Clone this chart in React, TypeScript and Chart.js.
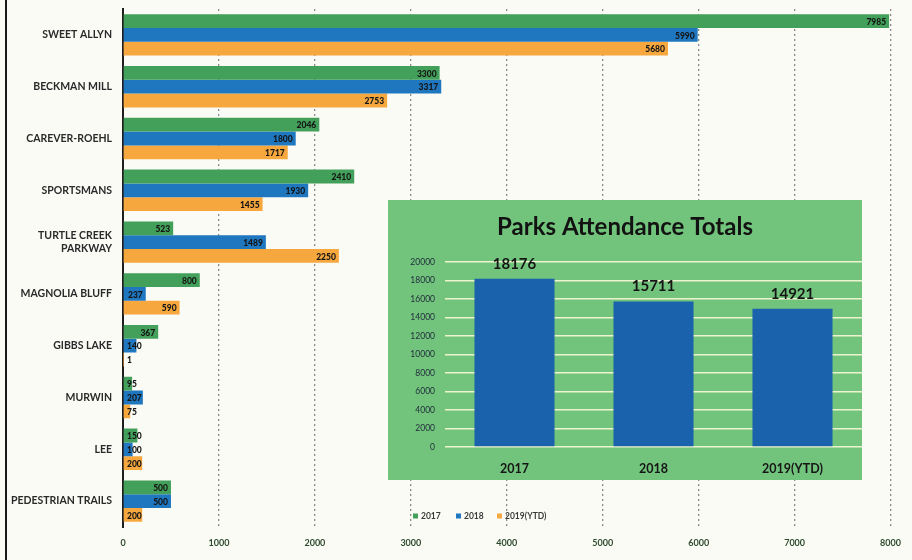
import React, { useEffect, useRef } from "react";
import { Chart, registerables } from "chart.js";

Chart.register(...registerables);

const parks = [
  "SWEET ALLYN",
  "BECKMAN MILL",
  "CAREVER-ROEHL",
  "SPORTSMANS",
  ["TURTLE CREEK", "PARKWAY"],
  "MAGNOLIA BLUFF",
  "GIBBS LAKE",
  "MURWIN",
  "LEE",
  "PEDESTRIAN TRAILS",
];
const seriesNames = ["2017", "2018", "2019(YTD)"];
const values2017 = [7985, 3300, 2046, 2410, 523, 800, 367, 95, 150, 500];
const values2018 = [5990, 3317, 1800, 1930, 1489, 237, 140, 207, 100, 500];
const values2019 = [5680, 2753, 1717, 1455, 2250, 590, 1, 75, 200, 200];
const xMax = 8000;
const xStep = 1000;

const totalYears = ["2017", "2018", "2019(YTD)"];
const totals = [18176, 15711, 14921];
const totalsMax = 20000;
const totalsStep = 2000;

const GREEN = "#43a05a";
const BLUE = "#1f77c0";
const ORANGE = "#f6a83f";

const barLabelPlugin = {
  id: "barLabels",
  afterDatasetsDraw(chart: any) {
    const ctx = chart.ctx;
    const xs = chart.scales.x;
    ctx.save();
    ctx.font = "900 8.5px Lato";
    ctx.fillStyle = "#141414";
    ctx.textAlign = "right";
    ctx.textBaseline = "middle";
    chart.data.datasets.forEach((ds: any, di: number) => {
      const meta = chart.getDatasetMeta(di);
      meta.data.forEach((bar: any, i: number) => {
        const text = String(ds.data[i]);
        const w = ctx.measureText(text).width;
        const x = Math.max(bar.x - 3, xs.left + 4 + w);
        ctx.fillText(text, x, bar.y + 1);
      });
    });
    ctx.restore();
  },
};

const legendPlugin = {
  id: "customLegend",
  afterDraw(chart: any) {
    const ctx = chart.ctx;
    const colors = [GREEN, BLUE, ORANGE];
    const xs = [413, 456, 497];
    const y = 516;
    ctx.save();
    ctx.font = "bold 8.5px Lato";
    ctx.textBaseline = "middle";
    ctx.textAlign = "left";
    seriesNames.forEach((n, i) => {
      ctx.fillStyle = colors[i];
      ctx.fillRect(xs[i], y - 2.5, 5, 5);
      ctx.fillStyle = "#3a3a3a";
      ctx.fillText(n, xs[i] + 8, y);
    });
    ctx.restore();
  },
};

const totalLabelPlugin = {
  id: "totalLabels",
  afterDatasetsDraw(chart: any) {
    const ctx = chart.ctx;
    ctx.save();
    ctx.font = "bold 15px Lato";
    ctx.fillStyle = "#151515";
    ctx.textAlign = "center";
    ctx.textBaseline = "middle";
    const ds = chart.data.datasets[0];
    chart.getDatasetMeta(0).data.forEach((bar: any, i: number) => {
      ctx.fillText(String(ds.data[i]), bar.x, bar.y - 15);
    });
    ctx.restore();
  },
};

function MainChart() {
  const ref = useRef<HTMLCanvasElement>(null);
  useEffect(() => {
    const chart = new Chart(ref.current as HTMLCanvasElement, {
      type: "bar",
      data: {
        labels: parks as any,
        datasets: [
          { label: seriesNames[0], data: values2017, backgroundColor: GREEN },
          { label: seriesNames[1], data: values2018, backgroundColor: BLUE },
          { label: seriesNames[2], data: values2019, backgroundColor: ORANGE },
        ],
      },
      options: {
        indexAxis: "y",
        animation: false,
        responsive: false,
        maintainAspectRatio: false,
        datasets: { bar: { categoryPercentage: 0.8, barPercentage: 1.0 } } as any,
        layout: { padding: { left: 8, right: 19, top: 9, bottom: 0 } },
        plugins: {
          legend: { display: false },
          tooltip: { enabled: false },
          title: { display: false },
        },
        scales: {
          x: {
            min: 0,
            max: xMax,
            ticks: {
              stepSize: xStep,
              color: "#2d4a2d",
              font: { family: "Lato", weight: "bold", size: 9 },
              padding: 11,
              callback: (v: any) => String(v),
            },
            grid: {
              color: (c: any) => (c.tick && c.tick.value === 0 ? "rgba(0,0,0,0)" : "#8a8a8a"),
              lineWidth: 1.3,
              drawTicks: false,
            },
            border: { display: false, dash: [2, 3] },
            afterFit: (s: any) => {
              s.height = 33;
            },
          },
          y: {
            ticks: {
              color: "#2a2a2a",
              font: { family: "Lato", weight: "bold", size: 10.5 },
              padding: 11,
            },
            grid: { display: false, drawTicks: false },
            border: { display: true, color: "#1e1e1e", width: 2 },
            afterFit: (s: any) => {
              s.width = 115;
              s.paddingTop = 0;
              s.paddingBottom = 0;
            },
          },
        },
      },
      plugins: [barLabelPlugin, legendPlugin],
    });
    return () => chart.destroy();
  }, []);
  return <canvas ref={ref} width={912} height={560} style={{ position: "absolute", left: 0, top: 0 }} />;
}

function TotalsChart() {
  const ref = useRef<HTMLCanvasElement>(null);
  useEffect(() => {
    const chart = new Chart(ref.current as HTMLCanvasElement, {
      type: "bar",
      data: {
        labels: totalYears,
        datasets: [
          {
            label: "Totals",
            data: totals,
            backgroundColor: "#1a62ac",
            categoryPercentage: 0.9,
            barPercentage: 0.64,
          },
        ],
      },
      options: {
        animation: false,
        responsive: false,
        maintainAspectRatio: false,
        layout: { padding: { left: 0, right: 0, top: 0, bottom: 0 } },
        plugins: {
          legend: { display: false },
          tooltip: { enabled: false },
          title: {
            display: true,
            text: "Parks Attendance Totals",
            color: "#121212",
            font: { family: "Lato", weight: "bold", size: 24, lineHeight: 1.2 },
            padding: { top: 13, bottom: 20 },
          },
        },
        scales: {
          x: {
            ticks: {
              color: "#161616",
              font: { family: "Lato", weight: "bold", size: 12.5 },
              padding: 14,
            },
            grid: { display: false, drawTicks: false },
            border: { display: false },
            afterFit: (s: any) => {
              s.height = 33;
            },
          },
          y: {
            min: 0,
            max: totalsMax,
            ticks: {
              stepSize: totalsStep,
              color: "#1f2a3a",
              font: { family: "Lato", size: 8.5 },
              padding: 10,
              callback: (v: any) => String(v),
            },
            grid: { color: "#eef3cf", lineWidth: 1.5, drawTicks: false },
            border: { display: false },
            afterFit: (s: any) => {
              s.width = 57;
            },
          },
        },
      },
      plugins: [totalLabelPlugin],
    });
    return () => chart.destroy();
  }, []);
  return (
    <canvas
      ref={ref}
      width={474}
      height={280}
      style={{ position: "absolute", left: 388, top: 200, background: "#72c47c" }}
    />
  );
}

export default function App() {
  useEffect(() => {
    document.body.style.margin = "0";
  }, []);
  return (
    <div style={{ position: "absolute", left: 0, top: 0, width: 912, height: 560, background: "#fbfbf6", overflow: "hidden" }}>
      <div style={{ position: "absolute", left: 5, top: 0, width: 2, height: 560, background: "#1a1a1a" }} />
      <MainChart />
      <TotalsChart />
    </div>
  );
}
